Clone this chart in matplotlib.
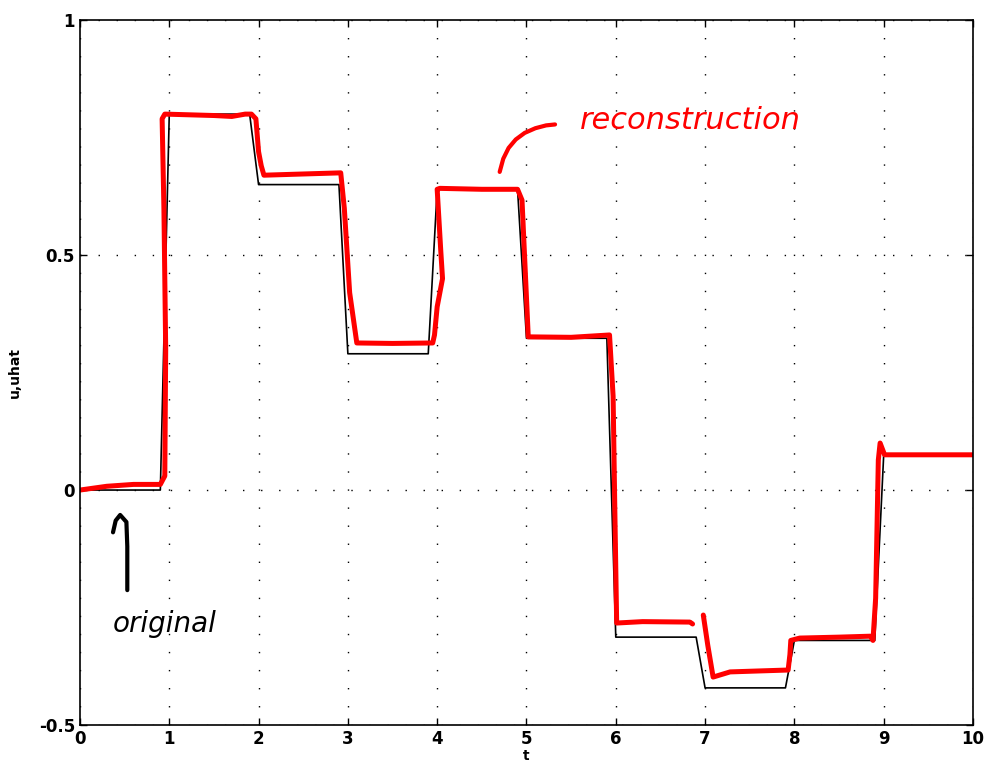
import matplotlib
matplotlib.use("Agg")
import matplotlib.pyplot as plt

# sampled signal u (held for 0.9 s, then a short ramp to the next sample)
t_samples = [0, 1, 2, 3, 4, 5, 6, 7, 8, 9]
u_samples = [0.0, 0.80, 0.65, 0.29, 0.64, 0.323, -0.313, -0.421, -0.32, 0.074]

# hand-drawn reconstruction (two pen strokes)
uhat_t1 = [0.0, 0.3, 0.6, 0.9, 0.95, 0.96, 0.94, 0.92, 0.95, 1.5, 1.7, 1.85, 1.92, 1.97,
           2.0, 2.03, 2.06, 2.4, 2.92, 2.96, 3.02, 3.1, 3.5, 3.95, 3.97, 4.0, 4.06, 4.04,
           4.0, 4.03, 4.5, 4.9, 4.95, 5.02, 5.5, 5.93, 5.97, 5.99, 6.01, 6.3, 6.83, 6.86]
uhat_y1 = [0.0, 0.008, 0.012, 0.012, 0.03, 0.3, 0.6, 0.79, 0.80, 0.797, 0.795, 0.80, 0.80, 0.79,
           0.72, 0.69, 0.67, 0.672, 0.675, 0.60, 0.42, 0.313, 0.312, 0.313, 0.33, 0.39, 0.45, 0.51,
           0.64, 0.642, 0.64, 0.64, 0.617, 0.326, 0.325, 0.33, 0.20, -0.05, -0.283, -0.28, -0.281, -0.285]
uhat_t2 = [6.98, 7.03, 7.09, 7.28, 7.6, 7.93, 7.95, 7.96, 8.06, 8.5, 8.85, 8.88, 8.91, 8.94,
           8.96, 9.01, 9.5, 10.0]
uhat_y2 = [-0.266, -0.33, -0.398, -0.387, -0.385, -0.383, -0.35, -0.32, -0.315, -0.313, -0.311, -0.32,
           -0.23, 0.064, 0.10, 0.075, 0.075, 0.075]

# black step signal built from the samples
u_t, u_y = [], []
for k, v in zip(t_samples, u_samples):
    u_t += [k, k + 0.9]
    u_y += [v, v]
u_t.append(10)
u_y.append(u_samples[-1])

fig = plt.figure(figsize=(9.86, 7.74), dpi=100)
ax = fig.add_axes([0.0811, 0.0633, 0.9057, 0.9107])

ax.plot(u_t, u_y, color="black", lw=1.2)
ax.plot(uhat_t1, uhat_y1, color="red", lw=3.6, solid_capstyle="round", solid_joinstyle="round")
ax.plot(uhat_t2, uhat_y2, color="red", lw=3.6, solid_capstyle="round", solid_joinstyle="round")

# annotations
ax.plot([4.70, 4.74, 4.80, 4.88, 4.98, 5.10, 5.22, 5.32],
        [0.677, 0.705, 0.728, 0.746, 0.760, 0.770, 0.776, 0.778],
        color="red", lw=3, solid_capstyle="round", solid_joinstyle="round")
ax.text(5.6, 0.787, "reconstruction", color="red", fontsize=22, style="italic",
        va="center", ha="left")
ax.plot([0.37, 0.40, 0.45, 0.52, 0.53, 0.53], [-0.09, -0.065, -0.053, -0.068, -0.12, -0.213],
        color="black", lw=3, solid_capstyle="round", solid_joinstyle="round")
ax.text(0.37, -0.285, "original", color="black", fontsize=20, style="italic",
        va="center", ha="left")

ax.set_xlim(0, 10)
ax.set_ylim(-0.5, 1)
ax.set_xticks(range(0, 11))
ax.set_yticks([-0.5, 0, 0.5, 1])
ax.set_yticklabels(["-0.5", "0", "0.5", "1"])
ax.tick_params(direction="in", top=True, right=True, length=5, width=1,
               labelsize=12)
for lab in ax.get_xticklabels() + ax.get_yticklabels():
    lab.set_fontweight("bold")
ax.grid(True, color="black", linestyle=(0, (1, 12)), linewidth=1.0)
for s in ax.spines.values():
    s.set_linewidth(1.2)

ax.set_xlabel("t", fontsize=10, fontweight="bold", labelpad=1)
ax.set_ylabel("u,uhat", fontsize=10, fontweight="bold", labelpad=12)

fig.savefig("out.png", dpi=100)
